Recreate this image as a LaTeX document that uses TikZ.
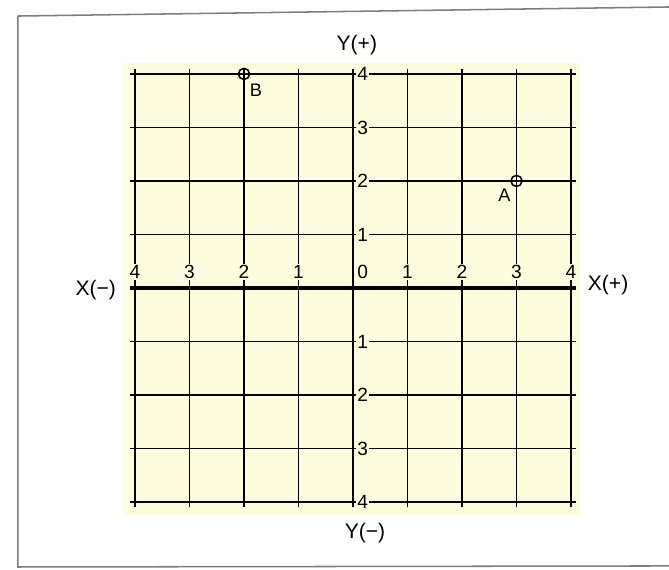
\documentclass[tikz,border=0pt]{standalone}
\usepackage{fontspec}
\setmainfont{Liberation Sans}
\definecolor{paper}{RGB}{254,252,222}
\definecolor{framegray}{RGB}{125,125,130}

\begin{document}
\begin{tikzpicture}[
	x=1cm, y=0.982cm,
	gridline/.style={ black, line width=0.75pt },
	axisline/.style={ black, line width=1.6pt },
	tick/.style={ fill=paper, inner sep=0.6pt, font=\fontsize{10}{11}\selectfont },
	axislabel/.style={ font=\fontsize{11}{12}\selectfont },
	point/.style={ circle, draw, line width=0.8pt, inner sep=0pt, minimum size=5.8pt },
	pointlabel/.style={ font=\fontsize{9.5}{10}\selectfont }
]

\useasboundingbox (-6.477cm,-5.174cm) rectangle (5.798cm,5.284cm);

\draw[framegray, line width=0.8pt]
  (5.8cm,5.156cm) to (-6.147cm,4.99cm) to (-6.147cm,-5.119cm) to (5.8cm,-5.10cm)
  ;

\fill[paper] (-4.22,-4.24) rectangle (4.165,4.204);

\foreach \k in {-4,...,4} {
	\draw[gridline] (\k,-4.1) to (\k,4.1);
	\draw[gridline] (-4.1,\k) to (4.1,\k);
}
\draw[axisline] (-4.1,0) to (4.1,0);
\draw[axisline, line width=1.3pt] (0,-4.1) to (0,4.1);

\foreach \k in {1,...,4} {
	\node[tick] (xpos\k) at (\k,0.3) {\k};
	\node[tick] (xneg\k) at (-\k,0.3) {\k};
	\node[tick] (ypos\k) at (0.18,\k) {\k};
	\node[tick] (yneg\k) at (0.18,-\k) {\k};
}
\node[tick] (origin) at (0.18,0.3) {0};

\node[axislabel] (yplus) at (0.07,4.54) {Y(+)};
\node[axislabel] (yminus) at (0.22,-4.58) {Y(−)};
\node[axislabel] (xminus) at (-4.72,-0.04) {X(−)};
\node[axislabel] (xplus) at (4.68,0.05) {X(+)};

\node[point] (A) at (3,2) {};
\node[pointlabel] (labelA) at (2.78,1.74) {A};
\node[point] (B) at (-2,4) {};
\node[pointlabel] (labelB) at (-1.78,3.7) {B};

\end{tikzpicture}
\end{document}
